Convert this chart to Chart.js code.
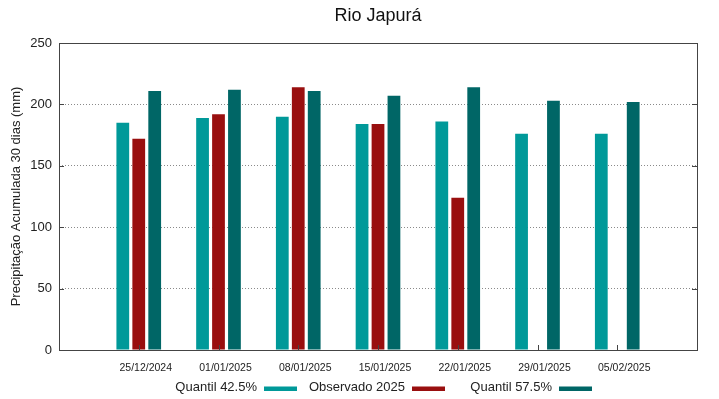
<!DOCTYPE html>
<html>
<head>
<meta charset="utf-8">
<script src="https://cdn.jsdelivr.net/npm/chart.js@4/dist/chart.umd.min.js"></script>
<style>
  html, body { margin: 0; padding: 0; background: #fff; }
  #wrap { width: 719px; height: 399px; position: relative; }
</style>
</head>
<body>
<div id="wrap"><canvas id="c" width="719" height="399"></canvas></div>
<script>
const chartTitle = 'Rio Japurá';
const yAxisTitle = 'Precipitação Acumulada 30 dias (mm)';
const dates = ['25/12/2024', '01/01/2025', '08/01/2025', '15/01/2025', '22/01/2025', '29/01/2025', '05/02/2025'];
const quantil425 = [185, 189, 190, 184, 186, 176, 176];
const observado2025 = [172, 192, 214, 184, 124, null, null];
const quantil575 = [211, 212, 211, 207, 214, 203, 202];
const seriesNames = ['Quantil 42.5%', 'Observado 2025', 'Quantil 57.5%'];
const seriesColors = ['#009999', '#990f0f', '#006666'];
const yTicks = [0, 50, 100, 150, 200, 250];

const FONT = '"Liberation Sans", Arial, sans-serif';
const pad = arr => [null, ...arr, null];
const labels = ['', ...dates, ''];

const boxPlugin = {
  id: 'boxAndLegend',
  afterDatasetsDraw(chart) {
    const ctx = chart.ctx;
    const a = chart.chartArea;
    const ys = chart.scales.y, xs = chart.scales.x;
    ctx.save();
    ctx.strokeStyle = '#444';
    ctx.lineWidth = 1;
    ctx.beginPath();
    yTicks.forEach(v => {
      const py = Math.round(ys.getPixelForValue(v)) + 0.5;
      ctx.moveTo(a.left, py); ctx.lineTo(a.left + 5, py);
      ctx.moveTo(a.right, py); ctx.lineTo(a.right - 5, py);
    });
    dates.forEach((d, i) => {
      const px = Math.round(xs.getPixelForValue(i + 1)) + 0.5;
      ctx.moveTo(px, a.bottom); ctx.lineTo(px, a.bottom - 5);
    });
    ctx.stroke();
    ctx.strokeRect(Math.round(a.left) + 0.5, Math.round(a.top) + 0.5,
                   Math.round(a.right - a.left), Math.round(a.bottom - a.top));
    const sampleLefts = [264, 412, 559];
    ctx.font = '13px ' + FONT;
    ctx.textAlign = 'right';
    ctx.textBaseline = 'middle';
    chart.data.datasets.forEach((ds, i) => {
      const sx = sampleLefts[i];
      ctx.fillStyle = '#222';
      ctx.fillText(ds.label, sx - 7, 387.5);
      ctx.fillStyle = ds.backgroundColor;
      ctx.fillRect(sx, 386.5, 33, 4.5);
    });
    ctx.restore();
  }
};

new Chart(document.getElementById('c'), {
  type: 'bar',
  data: {
    labels: labels,
    datasets: [
      { label: seriesNames[0], data: pad(quantil425), backgroundColor: seriesColors[0] },
      { label: seriesNames[1], data: pad(observado2025), backgroundColor: seriesColors[1] },
      { label: seriesNames[2], data: pad(quantil575), backgroundColor: seriesColors[2] }
    ]
  },
  options: {
    responsive: false,
    animation: false,
    events: [],
    layout: { padding: { left: 0, right: 22, top: 0, bottom: 0 } },
    datasets: { bar: { categoryPercentage: 0.6, barPercentage: 0.8 } },
    plugins: {
      legend: { display: false },
      tooltip: { enabled: false },
      title: {
        display: true,
        fullSize: false,
        text: chartTitle,
        color: '#111',
        font: { family: FONT, size: 18, weight: 'normal' },
        padding: { top: 5, bottom: 16.4 }
      }
    },
    scales: {
      x: {
        offset: false,
        grid: { display: false, drawTicks: false },
        border: { display: false },
        ticks: {
          color: '#222',
          font: { family: FONT, size: 10.5 },
          padding: 12,
          labelOffset: 7,
          maxRotation: 0,
          autoSkip: false
        },
        afterFit(scale) { scale.height = 49; }
      },
      y: {
        min: 0,
        max: 250,
        afterBuildTicks(scale) { scale.ticks = yTicks.map(v => ({ value: v })); },
        grid: {
          drawTicks: false,
          color: ctx => (ctx.tick && (ctx.tick.value === 0 || ctx.tick.value === 250)) ? 'rgba(0,0,0,0)' : '#8a8a8a',
          lineWidth: 1
        },
        border: { display: false, dash: [1, 2] },
        ticks: {
          color: '#222',
          font: { family: FONT, size: 13 },
          padding: 7
        },
        title: {
          display: true,
          text: yAxisTitle,
          color: '#222',
          font: { family: FONT, size: 13 },
          padding: { top: 9, bottom: 0 }
        },
        afterFit(scale) { scale.width = 59; }
      }
    }
  },
  plugins: [boxPlugin]
});
</script>
</body>
</html>
